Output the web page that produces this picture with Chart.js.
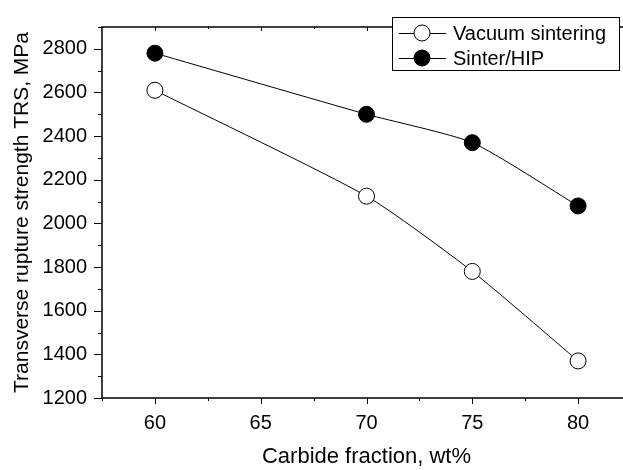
<!DOCTYPE html>
<html>
<head>
<meta charset="utf-8">
<script src="https://cdn.jsdelivr.net/npm/chart.js@4/dist/chart.umd.min.js"></script>
<style>
  html, body { margin: 0; padding: 0; background: #fff; overflow: hidden; }
  #wrap { width: 640px; height: 470px; }
</style>
</head>
<body>
<div id="wrap"><canvas id="chart"></canvas></div>
<script>
// values
var carbide = [60, 70, 75, 80];
var vacuum = [2610, 2125, 1780, 1370];
var sinterHip = [2780, 2500, 2370, 2080];
var xTicks = [60, 65, 70, 75, 80];
var yTicks = [1200, 1400, 1600, 1800, 2000, 2200, 2400, 2600, 2800];

var FONT = '"Liberation Sans", Arial, Helvetica, sans-serif';

function toPoints(xs, ys) {
  return xs.map(function (x, i) { return { x: x, y: ys[i] }; });
}

// frame, major and minor ticks like the original plot
var framePlugin = {
  id: 'frame',
  afterDraw: function (chart) {
    var ctx = chart.ctx, a = chart.chartArea;
    var xs = chart.scales.x, ys = chart.scales.y;
    ctx.save();
    ctx.strokeStyle = '#000';
    ctx.lineWidth = 1.5;
    ctx.strokeRect(a.left, a.top, a.right - a.left, a.bottom - a.top);
    ctx.lineWidth = 1;
    ctx.beginPath();
    xTicks.forEach(function (v) {
      var px = Math.round(xs.getPixelForValue(v)) + 0.5;
      ctx.moveTo(px, a.bottom); ctx.lineTo(px, a.bottom + 6);
      ctx.moveTo(px, a.top); ctx.lineTo(px, a.top + 4);
      var m = Math.round(xs.getPixelForValue(v + 2.5)) + 0.5;
      ctx.moveTo(m, a.bottom); ctx.lineTo(m, a.bottom + 3);
      ctx.moveTo(m, a.top); ctx.lineTo(m, a.top + 2);
      var m2 = Math.round(xs.getPixelForValue(v - 2.5)) + 0.5;
      ctx.moveTo(m2, a.bottom); ctx.lineTo(m2, a.bottom + 3);
    });
    yTicks.forEach(function (v) {
      var py = Math.round(ys.getPixelForValue(v)) + 0.5;
      ctx.moveTo(a.left, py); ctx.lineTo(a.left - 8, py);
      var m = Math.round(ys.getPixelForValue(v + 100)) + 0.5;
      if (m > a.top) { ctx.moveTo(a.left, m); ctx.lineTo(a.left - 4, m); }
    });
    ctx.stroke();
    ctx.restore();
  }
};

// boxed legend inside the plot area, top right
var legendPlugin = {
  id: 'boxLegend',
  afterDraw: function (chart) {
    var ctx = chart.ctx;
    var bx = 392, by = 17, bw = 227, bh = 53;
    ctx.save();
    ctx.fillStyle = '#fff';
    ctx.fillRect(bx, by, bw, bh);
    ctx.strokeStyle = '#000';
    ctx.lineWidth = 1;
    ctx.strokeRect(bx + 0.5, by + 0.5, bw, bh);
    chart.data.datasets.forEach(function (ds, i) {
      var y = by + 16 + i * 25;
      ctx.beginPath();
      ctx.moveTo(399, y + 0.5); ctx.lineTo(446, y + 0.5);
      ctx.stroke();
      ctx.beginPath();
      ctx.arc(422, y, 8, 0, Math.PI * 2);
      ctx.fillStyle = ds.pointBackgroundColor;
      ctx.fill();
      ctx.stroke();
      ctx.fillStyle = '#000';
      ctx.font = '20px ' + FONT;
      ctx.textBaseline = 'middle';
      ctx.fillText(ds.label, 453, y + 1);
    });
    ctx.restore();
  }
};

var ctx = document.getElementById('chart').getContext('2d');
var chart = new Chart(ctx, {
  type: 'line',
  data: {
    datasets: [{
      label: 'Vacuum sintering',
      data: toPoints(carbide, vacuum),
      borderColor: '#000',
      borderWidth: 1,
      pointRadius: 8,
      pointBorderWidth: 1,
      pointBorderColor: '#000',
      pointBackgroundColor: '#fff',
      tension: 0.2,
      fill: false
    }, {
      label: 'Sinter/HIP',
      data: toPoints(carbide, sinterHip),
      borderColor: '#000',
      borderWidth: 1,
      pointRadius: 8,
      pointBorderWidth: 1,
      pointBorderColor: '#000',
      pointBackgroundColor: '#000',
      tension: 0.2,
      fill: false
    }]
  },
  options: {
    responsive: true,
    maintainAspectRatio: false,
    animation: false,
    layout: { padding: { top: 7, right: 9, left: 0, bottom: 0 } },
    plugins: {
      legend: { display: false },
      tooltip: { enabled: false }
    },
    scales: {
      x: {
        type: 'linear',
        min: 57.5,
        max: 82.5,
        afterBuildTicks: function (scale) {
          scale.ticks = xTicks.map(function (v) { return { value: v }; });
        },
        afterFit: function (scale) { scale.height = 72; },
        grid: { display: false, drawTicks: false },
        border: { display: false },
        ticks: {
          padding: 13,
          color: '#000',
          maxRotation: 0,
          autoSkip: false,
          callback: function (v) { return String(v); },
          font: { family: FONT, size: 20 }
        },
        title: {
          display: true,
          text: 'Carbide fraction, wt%',
          color: '#000',
          font: { family: FONT, size: 22 },
          padding: { top: 0, bottom: 0 }
        }
      },
      y: {
        type: 'linear',
        min: 1200,
        max: 2900,
        afterBuildTicks: function (scale) {
          scale.ticks = yTicks.map(function (v) { return { value: v }; });
        },
        afterFit: function (scale) { scale.width = 102; },
        grid: { display: false, drawTicks: false },
        border: { display: false },
        ticks: {
          padding: 15,
          color: '#000',
          autoSkip: false,
          callback: function (v) { return String(v); },
          font: { family: FONT, size: 20 }
        },
        title: {
          display: true,
          text: 'Transverse rupture strength TRS, MPa',
          color: '#000',
          font: { family: FONT, size: 21 },
          padding: { top: 10, bottom: 0 }
        }
      }
    }
  },
  plugins: [framePlugin, legendPlugin]
});
</script>
</body>
</html>
